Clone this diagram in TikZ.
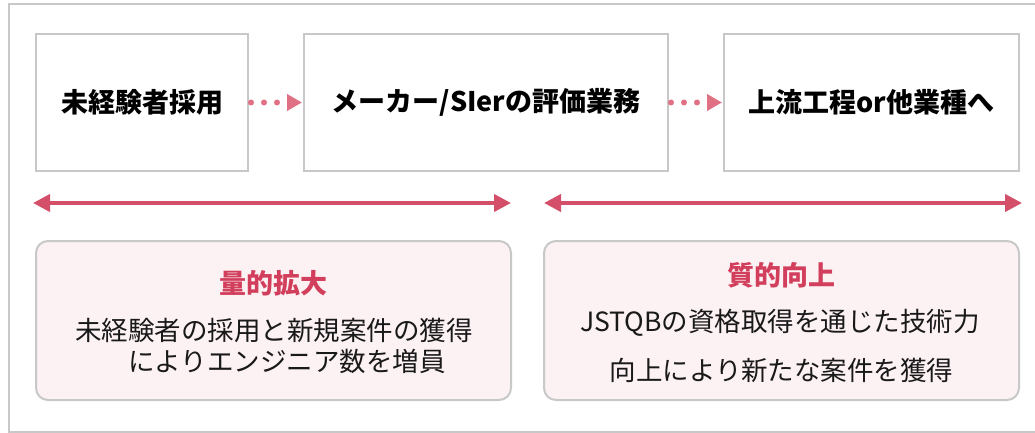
\documentclass[tikz,border=0pt]{standalone}
\usepackage{fontspec}
\setmainfont{Noto Sans CJK JP}
\usetikzlibrary{arrows.meta}
\definecolor{framegray}{HTML}{C8C8C8}
\definecolor{arrred}{HTML}{D4506A}
\definecolor{dotred}{HTML}{E07084}
\definecolor{titlered}{HTML}{D23F5C}
\definecolor{softpink}{HTML}{FCF1F3}
\begin{document}
\begin{tikzpicture}[x=1pt,y=-1pt,
  stagebox/.style={draw=framegray,line width=2pt,fill=white,inner sep=0pt,font=\fontsize{27}{31}\selectfont\bfseries},
  effectbox/.style={draw=framegray,line width=2pt,fill=softpink,rounded corners=12pt},
  title/.style={font=\fontsize{27}{31}\selectfont\bfseries,text=titlered,inner sep=0pt},
  body/.style={font=\fontsize{26.5}{31}\selectfont,text=black!90,inner sep=0pt},
  dotarrow/.style={dotred,line width=6pt,line cap=round,dash pattern=on 0pt off 13pt,
     -{Triangle[length=15pt,width=16pt,sep=0pt]}, shorten >=1pt},
  bigarrow/.style={arrred,line width=4pt,{Triangle[length=17pt,width=17pt]}-{Triangle[length=17pt,width=17pt]}}
  ]
\useasboundingbox (0,0) rectangle (1035,433);
\draw[framegray,line width=2pt] (1040,4) -- (9,4) -- (9,432) -- (1040,432);
% stage boxes
\draw[stagebox] (36,34) rectangle (248,171);
\node[stagebox,draw=none,fill=none,minimum width=212pt,minimum height=137pt] (s1) at (142,102.5) {未経験者採用};
\draw[stagebox] (304,34) rectangle (668,171);
\node[stagebox,draw=none,fill=none,minimum width=364pt,minimum height=137pt] (s2) at (486,102.5) {メーカー/SIerの評価業務};
\draw[stagebox] (724,34) rectangle (1019,171);
\node[stagebox,draw=none,fill=none,minimum width=295pt,minimum height=137pt] (s3) at (871.5,102.5) {上流工程or他業種へ};
% dotted arrows
\draw[dotarrow] ([xshift=2pt]s1.east) -- (s2.west);
\draw[dotarrow] ([xshift=2pt]s2.east) -- (s3.west);
% double arrows
\coordinate (la) at (33,203);
\coordinate (lb) at (511,203);
\coordinate (ra) at (544,203);
\coordinate (rb) at (1022,203);
\draw[bigarrow] (la) -- (lb);
\draw[bigarrow] (ra) -- (rb);
% effect boxes
\draw[effectbox] (36,241) rectangle (511,400);
\draw[effectbox] (544,241) rectangle (1019,400);
\node[title] (t1) at (273.5,283) {量的拡大};
\node[body] (b1a) at (274,330) {未経験者の採用と新規案件の獲得};
\node[body,anchor=west] (b1b) at (128,361) {によりエンジニア数を増員};
\node[title] (t2) at (781.5,275) {質的向上};
\node[body] (b2a) at (780,323) {JSTQBの資格取得を通じた技術力};
\node[body] (b2b) at (781.5,370) {向上により新たな案件を獲得};
\end{tikzpicture}
\end{document}
